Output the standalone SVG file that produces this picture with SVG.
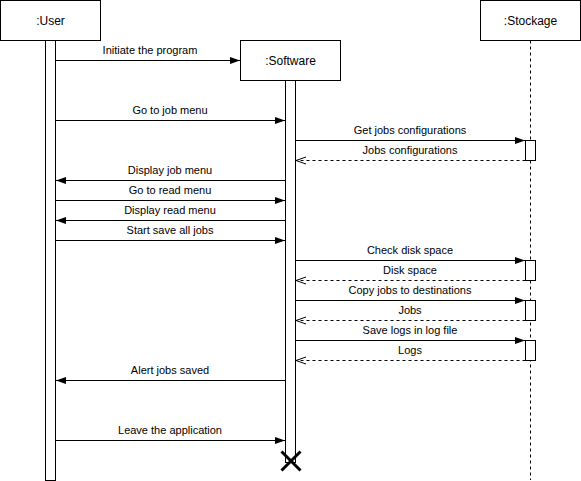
<svg xmlns="http://www.w3.org/2000/svg" width="581" height="481" viewBox="0 0 581 481">
<style>
text{font-family:"Liberation Sans",Arial,sans-serif;fill:#000}
.lbl{font-size:11px;text-anchor:middle}
.ttl{font-size:12px;text-anchor:middle}
.box{fill:#fff;stroke:#000;stroke-width:1}
.msg{stroke:#000;stroke-width:1;fill:none}
.ret{stroke:#000;stroke-width:1;fill:none;stroke-dasharray:3,3}
</style>
<defs>
<marker id="fill" viewBox="0 0 10 10" refX="10" refY="5" markerWidth="10" markerHeight="10" markerUnits="userSpaceOnUse" orient="auto">
<path d="M0,1.5 L10,5 L0,8.5 Z" fill="#000"/>
</marker>
<marker id="open" viewBox="0 0 10 10" refX="10" refY="5" markerWidth="10" markerHeight="10" markerUnits="userSpaceOnUse" orient="auto">
<path d="M0,1.5 L10,5 L0,8.5" fill="none" stroke="#000" stroke-width="1"/>
</marker>
</defs>
<rect width="581" height="481" fill="#fff"/>
<g id="user">
<rect class="box" x="0.5" y="0.5" width="100" height="40"/>
<text class="ttl" x="50.5" y="24.5">:User</text>
<rect class="box" x="45.5" y="40.5" width="10" height="440"/>
</g>
<g id="stockage">
<line x1="530.5" y1="40.5" x2="530.5" y2="480" stroke="#000" stroke-dasharray="3,3"/>
<rect class="box" x="480.5" y="0.5" width="100" height="40"/>
<text class="ttl" x="530.5" y="24.5">:Stockage</text>
<rect class="box" x="525.5" y="140.5" width="10" height="20"/>
<rect class="box" x="525.5" y="260.5" width="10" height="20"/>
<rect class="box" x="525.5" y="300.5" width="10" height="20"/>
<rect class="box" x="525.5" y="340.5" width="10" height="20"/>
</g>
<g id="software">
<rect class="box" x="285.5" y="80.5" width="10" height="382"/>
<rect class="box" x="240.5" y="40.5" width="100" height="40"/>
<text class="ttl" x="290.5" y="64.5">:Software</text>
<path d="M281.5,451.5 L300.5,470.5 M300.5,451.5 L281.5,470.5" stroke="#000" stroke-width="3" fill="none"/>
</g>
<g id="connectors">
<line class="msg" x1="55.5" y1="60.5" x2="240" y2="60.5" marker-end="url(#fill)"/>
<text class="lbl" x="150" y="54">Initiate the program</text>
<line class="msg" x1="55.5" y1="120.5" x2="285" y2="120.5" marker-end="url(#fill)"/>
<text class="lbl" x="170" y="114">Go to job menu</text>
<line class="msg" x1="295.5" y1="140.5" x2="525" y2="140.5" marker-end="url(#fill)"/>
<text class="lbl" x="410" y="134">Get jobs configurations</text>
<line class="ret" x1="525.5" y1="160.5" x2="296" y2="160.5" marker-end="url(#open)"/>
<text class="lbl" x="410" y="154">Jobs configurations</text>
<line class="msg" x1="285.5" y1="180.5" x2="56" y2="180.5" marker-end="url(#fill)"/>
<text class="lbl" x="170" y="174">Display job menu</text>
<line class="msg" x1="55.5" y1="200.5" x2="285" y2="200.5" marker-end="url(#fill)"/>
<text class="lbl" x="170" y="194">Go to read menu</text>
<line class="msg" x1="285.5" y1="220.5" x2="56" y2="220.5" marker-end="url(#fill)"/>
<text class="lbl" x="170" y="214">Display read menu</text>
<line class="msg" x1="55.5" y1="240.5" x2="285" y2="240.5" marker-end="url(#fill)"/>
<text class="lbl" x="170" y="234">Start save all jobs</text>
<line class="msg" x1="295.5" y1="260.5" x2="525" y2="260.5" marker-end="url(#fill)"/>
<text class="lbl" x="410" y="254">Check disk space</text>
<line class="ret" x1="525.5" y1="280.5" x2="296" y2="280.5" marker-end="url(#open)"/>
<text class="lbl" x="410" y="274">Disk space</text>
<line class="msg" x1="295.5" y1="300.5" x2="525" y2="300.5" marker-end="url(#fill)"/>
<text class="lbl" x="410" y="294">Copy jobs to destinations</text>
<line class="ret" x1="525.5" y1="320.5" x2="296" y2="320.5" marker-end="url(#open)"/>
<text class="lbl" x="410" y="314">Jobs</text>
<line class="msg" x1="295.5" y1="340.5" x2="525" y2="340.5" marker-end="url(#fill)"/>
<text class="lbl" x="410" y="334">Save logs in log file</text>
<line class="ret" x1="525.5" y1="360.5" x2="296" y2="360.5" marker-end="url(#open)"/>
<text class="lbl" x="410" y="354">Logs</text>
<line class="msg" x1="285.5" y1="380.5" x2="56" y2="380.5" marker-end="url(#fill)"/>
<text class="lbl" x="170" y="374">Alert jobs saved</text>
<line class="msg" x1="55.5" y1="440.5" x2="285" y2="440.5" marker-end="url(#fill)"/>
<text class="lbl" x="170" y="434">Leave the application</text>
</g>
</svg>
